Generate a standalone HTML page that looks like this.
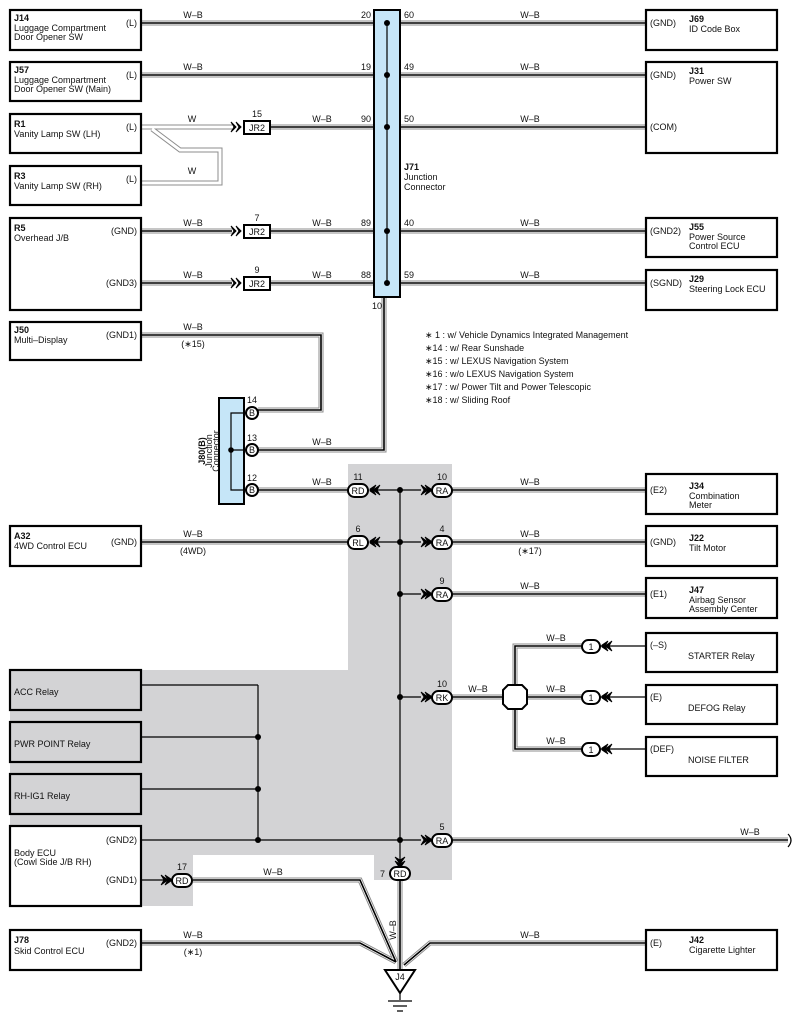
<!DOCTYPE html>
<html><head><meta charset="utf-8"><style>
html,body{margin:0;padding:0;background:#fff}
svg{display:block;font-family:"Liberation Sans",sans-serif}
.wo{stroke:#8c8c8c;stroke-width:5;fill:none}
.wi{stroke:#fff;stroke-width:3;fill:none}
.wc{stroke:#000;stroke-width:1.6;fill:none}
.ln{stroke:#000;stroke-width:1.2;fill:none}
.bx{fill:#fff;stroke:#000;stroke-width:2.2}
.gb{fill:#d3d3d5;stroke:#000;stroke-width:2.2}
.pl{fill:#fff;stroke:#000;stroke-width:2}
text{font-size:9px;fill:#111}
.b{font-weight:bold}
.m{text-anchor:middle}
.r{text-anchor:end}
</style></head><body>
<svg width="802" height="1025" viewBox="0 0 802 1025" xmlns="http://www.w3.org/2000/svg">
<defs>
<g id="chv"><path d="M0,-5 L5,0 L0,5 L3,0 Z M5,-5 L10,0 L5,5 L8,0 Z" fill="#000" stroke="#000" stroke-width="1"/></g>
<g id="ar"><path d="M0,-5 L7,0 L0,5 L3,0 Z" fill="#000" stroke="#000" stroke-width="0.8"/><path d="M4,-5 L10,-1 L10,1 L4,5 L7,0 Z" fill="#000" stroke="#000" stroke-width="0.8"/></g>
</defs>
<path d="M10 670 H348 V464 H452 V880 H374 V855 H193 V906 H141 V855 H10 Z" fill="#d3d3d5"/>

<g>
<path class="wo" d="M141 23H646M141 75H646M270 127H646M141 231H232M270 231H646M141 283H232M270 283H646M141 335H321V410H258M384 297V450H258M258 490H348M141 542H348M452 490H646M452 542H646M452 594H646M452 697H503M515 685V646H582M527 697H582M515 709V749H582M452 840H788M193 880H360L396 962M400 880V972M141 943H360L396 962M646 943H430L404 965"/>
<path class="wi" d="M141 23H646M141 75H646M270 127H646M141 231H232M270 231H646M141 283H232M270 283H646M141 335H321V410H258M384 297V450H258M258 490H348M141 542H348M452 490H646M452 542H646M452 594H646M452 697H503M515 685V646H582M527 697H582M515 709V749H582M452 840H788M193 880H360L396 962M400 880V972M141 943H360L396 962M646 943H430L404 965"/>
<path class="wc" d="M141 23H646M141 75H646M270 127H646M141 231H232M270 231H646M141 283H232M270 283H646M141 335H321V410H258M384 297V450H258M258 490H348M141 542H348M452 490H646M452 542H646M452 594H646M452 697H503M515 685V646H582M527 697H582M515 709V749H582M452 840H788M193 880H360L396 962M400 880V972M141 943H360L396 962M646 943H430L404 965"/>
<path class="wo" d="M141 127H232M152 129L180 150H220V183H141"/>
<path class="wi" d="M141 127H232M152 129L180 150H220V183H141"/>
</g>
<path d="M788 834 Q794 840 788 847" stroke="#000" stroke-width="1.2" fill="none"/>

<rect x="374" y="10" width="26" height="287" fill="#c6e6f8" stroke="#000" stroke-width="2"/>
<line class="ln" x1="387" y1="23" x2="387" y2="283"/>
<g fill="#000"><circle cx="387" cy="23" r="3"/><circle cx="387" cy="75" r="3"/><circle cx="387" cy="127" r="3"/><circle cx="387" cy="231" r="3"/><circle cx="387" cy="283" r="3"/></g>
<text x="371" y="18" class="r">20</text><text x="371" y="70" class="r">19</text><text x="371" y="122" class="r">90</text><text x="371" y="226" class="r">89</text><text x="371" y="278" class="r">88</text><text x="382" y="309" class="r">10</text>
<text x="404" y="18">60</text><text x="404" y="70">49</text><text x="404" y="122">50</text><text x="404" y="226">40</text><text x="404" y="278">59</text>
<text x="404" y="170" class="b">J71</text><text x="404" y="180">Junction</text><text x="404" y="190">Connector</text>

<use href="#chv" x="231" y="127"/><rect class="pl" x="244" y="121" width="26" height="13" stroke-width="2.2"/><text x="257" y="131" class="m">JR2</text><text x="257" y="117" class="m">15</text>
<use href="#chv" x="231" y="231"/><rect class="pl" x="244" y="225" width="26" height="13" stroke-width="2.2"/><text x="257" y="235" class="m">JR2</text><text x="257" y="221" class="m">7</text>
<use href="#chv" x="231" y="283"/><rect class="pl" x="244" y="277" width="26" height="13" stroke-width="2.2"/><text x="257" y="287" class="m">JR2</text><text x="257" y="273" class="m">9</text>

<text x="193" y="18" class="m">W–B</text><text x="530" y="18" class="m">W–B</text>
<text x="193" y="70" class="m">W–B</text><text x="530" y="70" class="m">W–B</text>
<text x="192" y="122" class="m">W</text><text x="322" y="122" class="m">W–B</text><text x="530" y="122" class="m">W–B</text>
<text x="192" y="174" class="m">W</text>
<text x="193" y="226" class="m">W–B</text><text x="322" y="226" class="m">W–B</text><text x="530" y="226" class="m">W–B</text>
<text x="193" y="278" class="m">W–B</text><text x="322" y="278" class="m">W–B</text><text x="530" y="278" class="m">W–B</text>
<text x="193" y="330" class="m">W–B</text><text x="193" y="347" class="m">(∗15)</text>
<text x="322" y="445" class="m">W–B</text><text x="322" y="485" class="m">W–B</text>
<text x="193" y="537" class="m">W–B</text><text x="193" y="554" class="m">(4WD)</text>
<text x="530" y="485" class="m">W–B</text><text x="530" y="537" class="m">W–B</text><text x="530" y="554" class="m">(∗17)</text><text x="530" y="589" class="m">W–B</text>
<text x="478" y="692" class="m">W–B</text><text x="556" y="641" class="m">W–B</text><text x="556" y="692" class="m">W–B</text><text x="556" y="744" class="m">W–B</text>
<text x="750" y="835" class="m">W–B</text><text x="273" y="875" class="m">W–B</text>
<text x="193" y="938" class="m">W–B</text><text x="193" y="955" class="m">(∗1)</text><text x="530" y="938" class="m">W–B</text>
<text transform="translate(396,930) rotate(-90)" class="m">W–B</text>

<rect class="bx" x="10" y="10" width="131" height="40"/><text x="14" y="21" class="b">J14</text><text x="14" y="31">Luggage Compartment</text><text x="14" y="40">Door Opener SW</text><text x="137" y="26" class="r">(L)</text>
<rect class="bx" x="10" y="62" width="131" height="39"/><text x="14" y="73" class="b">J57</text><text x="14" y="83">Luggage Compartment</text><text x="14" y="92">Door Opener SW (Main)</text><text x="137" y="78" class="r">(L)</text>
<rect class="bx" x="10" y="114" width="131" height="39"/><text x="14" y="127" class="b">R1</text><text x="14" y="137">Vanity Lamp SW (LH)</text><text x="137" y="130" class="r">(L)</text>
<rect class="bx" x="10" y="166" width="131" height="39"/><text x="14" y="179" class="b">R3</text><text x="14" y="189">Vanity Lamp SW (RH)</text><text x="137" y="182" class="r">(L)</text>
<rect class="bx" x="10" y="218" width="131" height="92"/><text x="14" y="231" class="b">R5</text><text x="14" y="241">Overhead J/B</text><text x="137" y="234" class="r">(GND)</text><text x="137" y="286" class="r">(GND3)</text>
<rect class="bx" x="10" y="322" width="131" height="38"/><text x="14" y="333" class="b">J50</text><text x="14" y="343">Multi–Display</text><text x="137" y="338" class="r">(GND1)</text>
<rect class="bx" x="10" y="526" width="131" height="40"/><text x="14" y="539" class="b">A32</text><text x="14" y="549">4WD Control ECU</text><text x="137" y="545" class="r">(GND)</text>
<rect class="gb" x="10" y="670" width="131" height="40"/><text x="14" y="695">ACC Relay</text>
<rect class="gb" x="10" y="722" width="131" height="40"/><text x="14" y="747">PWR POINT Relay</text>
<rect class="gb" x="10" y="774" width="131" height="40"/><text x="14" y="799">RH-IG1 Relay</text>
<rect class="bx" x="10" y="826" width="131" height="80"/><text x="14" y="856">Body ECU</text><text x="14" y="865">(Cowl Side J/B RH)</text><text x="137" y="843" class="r">(GND2)</text><text x="137" y="883" class="r">(GND1)</text>
<rect class="bx" x="10" y="930" width="131" height="40"/><text x="14" y="943" class="b">J78</text><text x="14" y="954">Skid Control ECU</text><text x="137" y="946" class="r">(GND2)</text>

<rect class="bx" x="646" y="10" width="131" height="40"/><text x="650" y="26">(GND)</text><text x="689" y="22" class="b">J69</text><text x="689" y="32">ID Code Box</text>
<rect class="bx" x="646" y="62" width="131" height="91"/><text x="650" y="78">(GND)</text><text x="689" y="74" class="b">J31</text><text x="689" y="84">Power SW</text><text x="650" y="130">(COM)</text>
<rect class="bx" x="646" y="218" width="131" height="39"/><text x="650" y="234">(GND2)</text><text x="689" y="230" class="b">J55</text><text x="689" y="240">Power Source</text><text x="689" y="249">Control ECU</text>
<rect class="bx" x="646" y="270" width="131" height="40"/><text x="650" y="286">(SGND)</text><text x="689" y="282" class="b">J29</text><text x="689" y="292">Steering Lock ECU</text>
<rect class="bx" x="646" y="474" width="131" height="40"/><text x="650" y="493">(E2)</text><text x="689" y="489" class="b">J34</text><text x="689" y="499">Combination</text><text x="689" y="508">Meter</text>
<rect class="bx" x="646" y="526" width="131" height="40"/><text x="650" y="545">(GND)</text><text x="689" y="541" class="b">J22</text><text x="689" y="551">Tilt Motor</text>
<rect class="bx" x="646" y="578" width="131" height="40"/><text x="650" y="597">(E1)</text><text x="689" y="593" class="b">J47</text><text x="689" y="603">Airbag Sensor</text><text x="689" y="612">Assembly Center</text>
<rect class="bx" x="646" y="633" width="131" height="39"/><text x="650" y="648">(–S)</text><text x="688" y="659">STARTER Relay</text>
<rect class="bx" x="646" y="685" width="131" height="39"/><text x="650" y="700">(E)</text><text x="688" y="711">DEFOG Relay</text>
<rect class="bx" x="646" y="737" width="131" height="39"/><text x="650" y="752">(DEF)</text><text x="688" y="763">NOISE FILTER</text>
<rect class="bx" x="646" y="930" width="131" height="40"/><text x="650" y="946">(E)</text><text x="689" y="943" class="b">J42</text><text x="689" y="953">Cigarette Lighter</text>

<text x="425" y="338">∗ 1 : w/ Vehicle Dynamics Integrated Management</text><text x="425" y="351">∗14 : w/ Rear Sunshade</text><text x="425" y="364">∗15 : w/ LEXUS Navigation System</text><text x="425" y="377">∗16 : w/o LEXUS Navigation System</text><text x="425" y="390">∗17 : w/ Power Tilt and Power Telescopic</text><text x="425" y="403">∗18 : w/ Sliding Roof</text>

<rect x="219" y="398" width="25" height="106" fill="#c6e6f8" stroke="#000" stroke-width="2"/>
<path class="ln" d="M252 413H231V490H252M231 450H252"/>
<circle cx="231" cy="450" r="2.8"/>
<circle class="pl" cx="252" cy="413" r="6"/><text x="252" y="416" class="m">B</text><text x="252" y="403" class="m">14</text>
<circle class="pl" cx="252" cy="450" r="6"/><text x="252" y="453" class="m">B</text><text x="252" y="441" class="m">13</text>
<circle class="pl" cx="252" cy="490" r="6"/><text x="252" y="493" class="m">B</text><text x="252" y="481" class="m">12</text>
<g transform="translate(205,451) rotate(-90)"><text x="0" y="0" class="m b">J80(B)</text><text x="0" y="7" class="m">Junction</text><text x="0" y="14" class="m">Connector</text></g>

<path class="ln" d="M400 490V866M370 490H421M370 542H421M400 594H421M400 697H421M141 685H258M141 737H258M141 789H258M141 840H421M258 685V840M141 880H172M600 646H646M600 697H646M600 749H646"/>
<g fill="#000"><circle cx="400" cy="490" r="3"/><circle cx="400" cy="542" r="3"/><circle cx="400" cy="594" r="3"/><circle cx="400" cy="697" r="3"/><circle cx="400" cy="840" r="3"/><circle cx="258" cy="737" r="3"/><circle cx="258" cy="789" r="3"/><circle cx="258" cy="840" r="3"/></g>
<use href="#ar" x="421" y="490"/><use href="#ar" x="421" y="542"/><use href="#ar" x="421" y="594"/><use href="#ar" x="421" y="697"/><use href="#ar" x="421" y="840"/>
<use href="#ar" transform="translate(380,490) scale(-1,1)"/><use href="#ar" transform="translate(380,542) scale(-1,1)"/>
<use href="#ar" x="161" y="880"/>
<use href="#ar" transform="translate(400,857) rotate(90)"/>
<use href="#ar" transform="translate(612,646) scale(-1,1)"/><use href="#ar" transform="translate(612,697) scale(-1,1)"/><use href="#ar" transform="translate(612,749) scale(-1,1)"/>
<rect class="pl" x="348" y="484" width="20" height="13" rx="6.5"/><text x="358" y="494" class="m">RD</text><text x="358" y="480" class="m">11</text>
<rect class="pl" x="348" y="536" width="20" height="13" rx="6.5"/><text x="358" y="546" class="m">RL</text><text x="358" y="532" class="m">6</text>
<rect class="pl" x="432" y="484" width="20" height="13" rx="6.5"/><text x="442" y="494" class="m">RA</text><text x="442" y="480" class="m">10</text>
<rect class="pl" x="432" y="536" width="20" height="13" rx="6.5"/><text x="442" y="546" class="m">RA</text><text x="442" y="532" class="m">4</text>
<rect class="pl" x="432" y="588" width="20" height="13" rx="6.5"/><text x="442" y="598" class="m">RA</text><text x="442" y="584" class="m">9</text>
<rect class="pl" x="432" y="691" width="20" height="13" rx="6.5"/><text x="442" y="701" class="m">RK</text><text x="442" y="687" class="m">10</text>
<rect class="pl" x="432" y="834" width="20" height="13" rx="6.5"/><text x="442" y="844" class="m">RA</text><text x="442" y="830" class="m">5</text>
<rect class="pl" x="172" y="874" width="20" height="13" rx="6.5"/><text x="182" y="884" class="m">RD</text><text x="182" y="870" class="m">17</text>
<rect class="pl" x="390" y="867" width="20" height="13" rx="6.5"/><text x="400" y="877" class="m">RD</text><text x="385" y="877" class="r">7</text>
<rect class="pl" x="582" y="640" width="18" height="13" rx="6.5"/><text x="591" y="650" class="m">1</text>
<rect class="pl" x="582" y="691" width="18" height="13" rx="6.5"/><text x="591" y="701" class="m">1</text>
<rect class="pl" x="582" y="743" width="18" height="13" rx="6.5"/><text x="591" y="753" class="m">1</text>
<polygon points="508,685 522,685 527,690 527,704 522,709 508,709 503,704 503,690" fill="#fff" stroke="#000" stroke-width="2"/>
<polygon points="385,970 415,970 400,993" fill="#fff" stroke="#000" stroke-width="2"/>
<text x="400" y="980" class="m">J4</text>
<path d="M400 993V1000M388 1001H412M393 1006H407M397 1011H403" stroke="#000" stroke-width="1.2"/>
</svg>
</body></html>
